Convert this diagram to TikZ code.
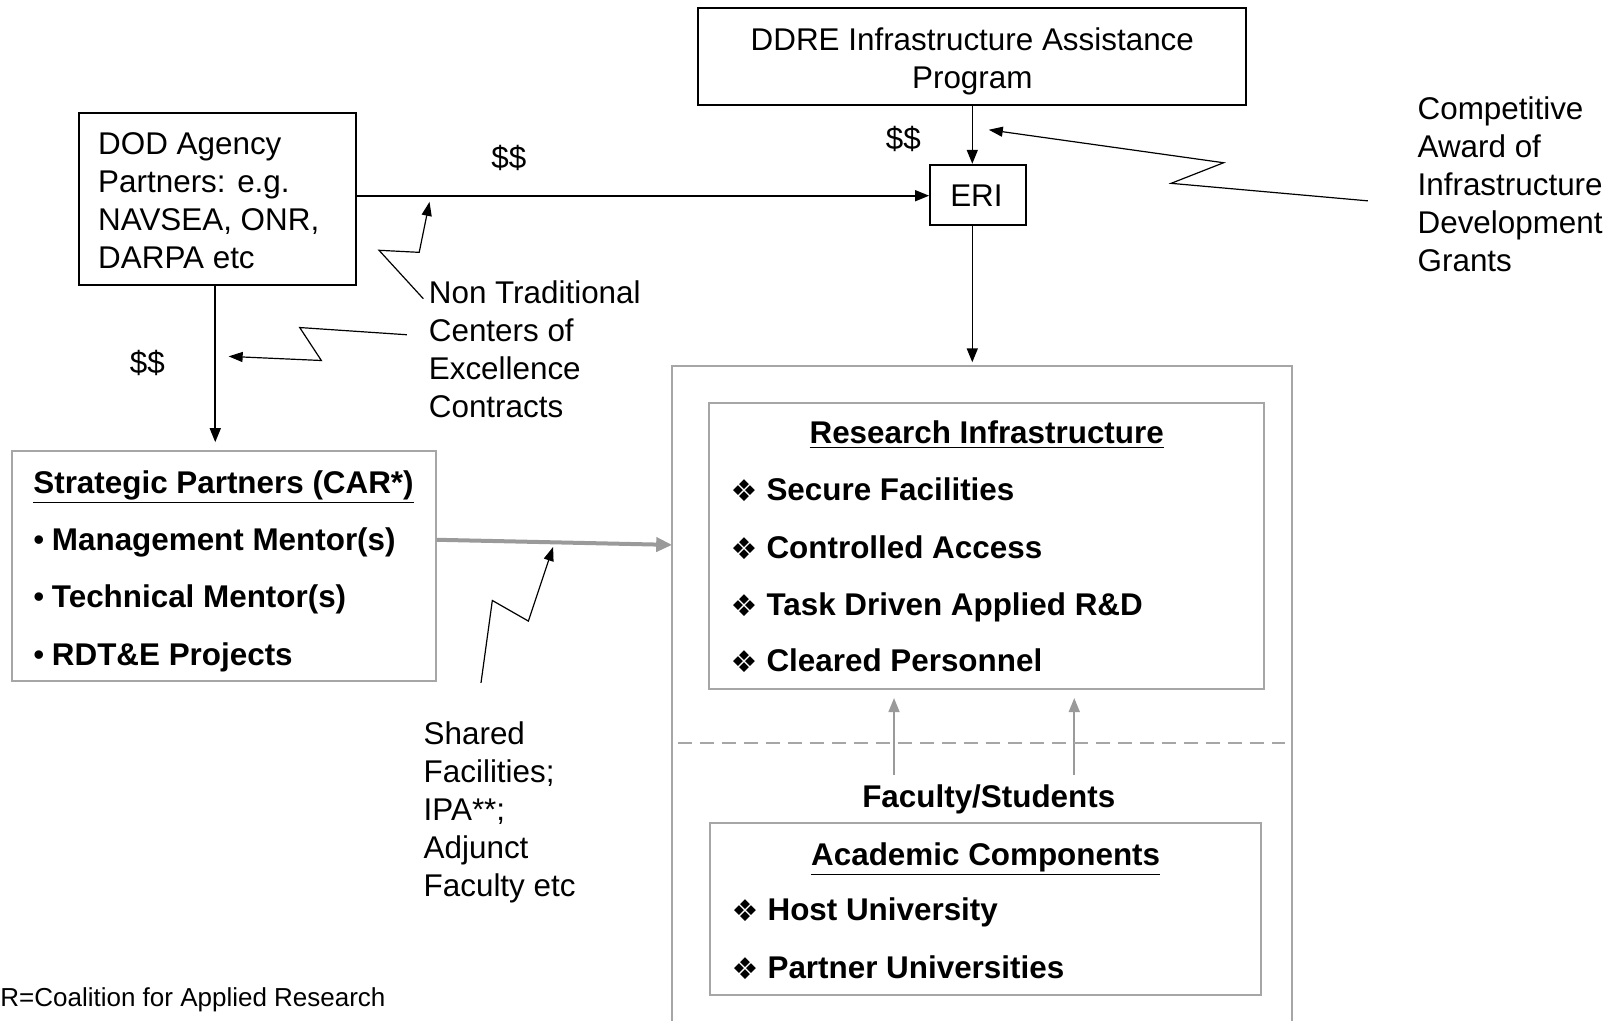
\documentclass[tikz,border=0pt]{standalone}
\usepackage{fontspec}
\setmainfont{Liberation Sans}
\newfontfamily\dingfont{DejaVu Sans}
\usetikzlibrary{arrows.meta,fit}
\definecolor{boxgray}{HTML}{A6A6A6}
\definecolor{arrgray}{HTML}{9A9A9A}
\newcommand{\dia}{\raisebox{-0.5pt}{\dingfont\fontsize{15}{15}\selectfont ❖}\hspace{4.5pt}}
\newcommand{\bul}{{\mdseries\textbullet}\hspace{3.8pt}}
\begin{document}
\begin{tikzpicture}[x=0.515pt,y=-0.515pt,
  bbox/.style={draw=black,line width=1pt,inner sep=0pt},
  gbox/.style={draw=boxgray,line width=1pt,inner sep=0pt},
  fitbox/.style={inner sep=0pt},
  txt/.style={inner sep=0pt,font=\fontsize{15.7}{19}\selectfont},
  btxt/.style={inner sep=0pt,font=\fontsize{15.7}{19}\selectfont\bfseries},
  arr/.style={line width=0.8pt,-{Triangle[length=7pt,width=5.5pt]}},
  zig/.style={line width=0.6pt,-{Triangle[length=7pt,width=5pt]}},
  garr/.style={draw=arrgray,line width=0.8pt,-{Triangle[length=7pt,width=5.5pt]},arrgray},
  thick gray arrow/.style={draw=arrgray,line width=2pt,-{Triangle[length=8pt,width=7pt]},arrgray}]
\useasboundingbox (0,0) rectangle (1568,991);

% boxes
\node[bbox,fit={(678,8) (1210,102)}] (ddre) {};
\node[bbox,fit={(903,160) (996,218)}] (eri) {};
\node[bbox,fit={(77,110) (346,277)}] (dod) {};
\node[gbox,fit={(12,438) (423,661)}] (stp) {};
\node[fitbox,fit={(653,356) (1254,991)}] (outer) {};
\draw[boxgray,line width=1pt] (outer.south west) -- (outer.north west) -- (outer.north east) -- (outer.south east);
\node[gbox,fit={(688,391) (1227,669)}] (ri) {};
\node[gbox,fit={(689,799) (1224,966)}] (ac) {};

% texts
\node[txt,align=center,anchor=north] (ddretxt) at (944,27) {DDRE Infrastructure Assistance\\Program};
\node[txt] (eritxt) at (948,190) {ERI};
\node[txt,align=left,anchor=north west] (dodtxt) at (95,128) {DOD Agency\\Partners: e.g.\\NAVSEA, ONR,\\DARPA etc};
\node[txt,align=left,anchor=north west] (nontrad) at (416,272) {Non Traditional\\Centers of\\Excellence\\Contracts};
\node[txt,align=left,anchor=north west] (comp) at (1376,94) {Competitive\\Award of\\Infrastructure\\Development\\Grants};
\node[txt,align=left,anchor=north west] (shared) at (411,700) {Shared\\Facilities;\\IPA**;\\Adjunct\\Faculty etc};
\node[txt] (d1) at (494,153) {\$\$};
\node[txt] (d2) at (877,135) {\$\$};
\node[txt] (d3) at (143,352) {\$\$};

\node[btxt,anchor=base west] (stpt) at (32,479) {\underline{Strategic Partners (CAR*)}};
\node[btxt,anchor=base west] (stp1) at (32,534) {\bul Management Mentor(s)};
\node[btxt,anchor=base west] (stp2) at (32,590) {\bul Technical Mentor(s)};
\node[btxt,anchor=base west] (stp3) at (32,646) {\bul RDT\&E Projects};

\node[btxt,anchor=base] (rit) at (958,431) {\underline{Research Infrastructure}};
\node[btxt,anchor=base west] (ri1) at (709,486) {\dia Secure Facilities};
\node[btxt,anchor=base west] (ri2) at (709,542) {\dia Controlled Access};
\node[btxt,anchor=base west] (ri3) at (709,598) {\dia Task Driven Applied R\&D};
\node[btxt,anchor=base west] (ri4) at (709,652) {\dia Cleared Personnel};

\node[btxt,anchor=base] (fs) at (960,784) {Faculty/Students};

\node[btxt,anchor=base] (act) at (957,840) {\underline{Academic Components}};
\node[btxt,anchor=base west] (ac1) at (710,894) {\dia Host University};
\node[btxt,anchor=base west] (ac2) at (710,950) {\dia Partner Universities};

\node[inner sep=0pt,anchor=base west,font=\fontsize{13}{15}\selectfont] (foot) at (0,977) {R=Coalition for Applied Research};

% connectors
\draw[arr] (ddre.south -| 944,0) -- (eri.north -| 944,0);
\draw[arr] (dod.east |- 0,190) -- (eri.west |- 0,190);
\draw[arr,shorten >=4pt] (dod.south -| 209,0) -- (stp.north -| 209,0);
\draw[arr,shorten >=2pt] (eri.south -| 944,0) -- (outer.north -| 944,0);
\draw[thick gray arrow] ([yshift=13.1pt]stp.east) -- ([yshift=74.4pt]outer.west);
\draw[garr,shorten >=4pt] (868,752) -- (ri.south -| 868,0);
\draw[garr,shorten >=4pt] (1043,752) -- (ri.south -| 1043,0);
\draw[boxgray,line width=1pt,dash pattern=on 7pt off 4pt] ([xshift=3pt]outer.west |- 0,721) -- ([xshift=-3.5pt]outer.east |- 0,721);

% lightning callouts
\draw[zig] (411,290) -- (368,243) -- (407,245) -- (417,196);
\draw[zig] (395,325) -- (291,318) -- (312,350) -- (222,346);
\draw[zig] (1328,195) -- (1137,178) -- (1188,158) -- (960,126);
\draw[zig] (467,663) -- (478,583) -- (513,603) -- (537,531);
\end{tikzpicture}
\end{document}
